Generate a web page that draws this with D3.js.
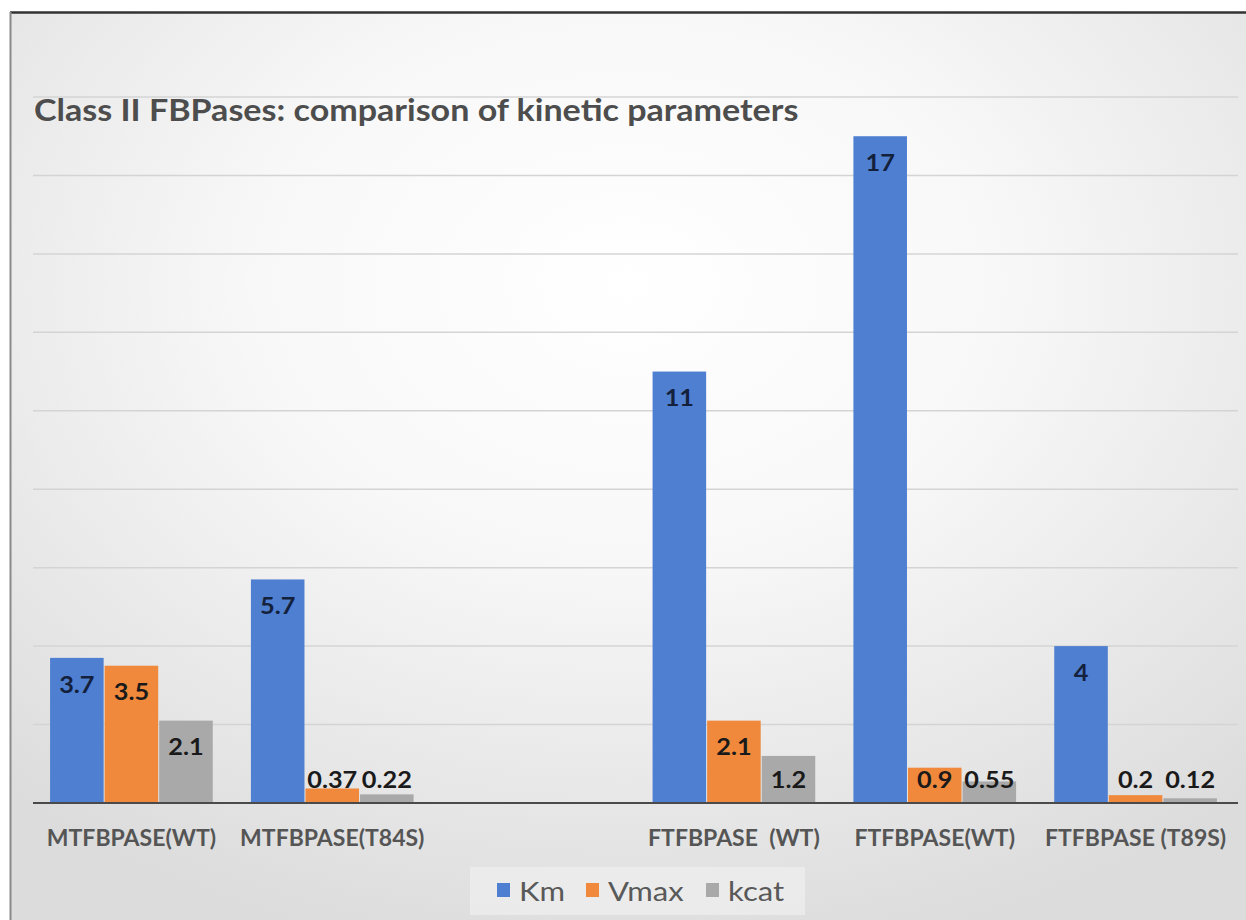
<!DOCTYPE html>
<html>
<head>
<meta charset="utf-8">
<script src="https://cdn.jsdelivr.net/npm/d3@7"></script>
<style>
  body { margin: 0; background: #fff; }
  svg { display: block; }
  text { font-family: Lato, "Open Sans", sans-serif; }
</style>
</head>
<body>
<div id="chart"></div>
<script>
// chart values
var categories = ["MTFBPASE(WT)", "MTFBPASE(T84S)", "", "FTFBPASE  (WT)", "FTFBPASE(WT)", "FTFBPASE (T89S)"];
var seriesNames = ["Km", "Vmax", "kcat"];
var kmValues   = [3.7, 5.7, null, 11, 17, 4];
var vmaxValues = [3.5, 0.37, null, 2.1, 0.9, 0.2];
var kcatValues = [2.1, 0.22, null, 1.2, 0.55, 0.12];
var labelText = {
    Km:   ["3.7", "5.7", "", "11", "17", "4"],
    Vmax: ["3.5", "0.37", "", "2.1", "0.9", "0.2"],
    kcat: ["2.1", "0.22", "", "1.2", "0.55", "0.12"]
};
var yTicks = [0, 2, 4, 6, 8, 10, 12, 14, 16, 18];
var titleText = "Class II FBPases: comparison of kinetic parameters";

var config = {
    width: 1246,
    height: 920,
    plot: { left: 31, right: 1236, top: 97, bottom: 803 },
    colors: { Km: "#4f7fd0", Vmax: "#f0893c", kcat: "#a9a9a9" },
    // the source picture is a little wider than tall, text gets stretched too
    stretch: { title: 1.135, label: 1.15, legend: 1.15 }
};

var rows = categories.map((c, i) => ({
    cat: c, idx: i,
    values: [
        { key: "Km", v: kmValues[i] },
        { key: "Vmax", v: vmaxValues[i] },
        { key: "kcat", v: kcatValues[i] }
    ]
}));

var svg = d3.select("#chart").append("svg")
    .attr("width", config.width)
    .attr("height", config.height);

// background gradient
var defs = svg.append("defs");
var grad = defs.append("radialGradient")
    .attr("id", "bg")
    .attr("cx", "50%").attr("cy", "30%").attr("r", "75%");
grad.append("stop").attr("offset", "0%").attr("stop-color", "#ffffff");
grad.append("stop").attr("offset", "40%").attr("stop-color", "#f8f8f8");
grad.append("stop").attr("offset", "100%").attr("stop-color", "#dcdcdc");

svg.append("rect")
    .attr("x", 10).attr("y", 12)
    .attr("width", config.width - 10).attr("height", config.height - 12)
    .attr("fill", "url(#bg)");

// frame
svg.append("line").attr("x1", 10).attr("x2", config.width).attr("y1", 12.5).attr("y2", 12.5)
    .attr("stroke", "#333").attr("stroke-width", 2.5);
svg.append("line").attr("x1", 10.5).attr("x2", 10.5).attr("y1", 12).attr("y2", config.height)
    .attr("stroke", "#8a8a8a").attr("stroke-width", 2);

var x = d3.scaleBand()
    .domain(d3.range(categories.length))
    .range([config.plot.left, config.plot.right])
    .paddingInner(0.185)
    .paddingOuter(0.0925);

var xs = d3.scaleBand()
    .domain(seriesNames)
    .range([0, x.bandwidth()])
    .padding(0);

var y = d3.scaleLinear()
    .domain([0, 18])
    .range([config.plot.bottom, config.plot.top]);

// gridlines
svg.append("g")
    .selectAll("line")
    .data(yTicks.filter(t => t > 0))
    .join("line")
    .attr("x1", config.plot.left + 2).attr("x2", config.plot.right + 2)
    .attr("y1", d => y(d)).attr("y2", d => y(d))
    .attr("stroke", "#d4d4d4")
    .attr("stroke-width", 1.5);

// title
svg.append("text")
    .attr("transform", `translate(34,121) scale(${config.stretch.title},1)`)
    .attr("font-size", 30)
    .attr("font-weight", 700)
    .attr("fill", "#4d4d4d")
    .text(titleText);

// bars
var groups = svg.append("g")
    .selectAll("g")
    .data(rows)
    .join("g")
    .attr("transform", d => `translate(${x(d.idx)},0)`);

groups.selectAll("rect")
    .data(d => d.values.filter(v => v.v !== null))
    .join("rect")
    .attr("x", d => xs(d.key) + 0.5)
    .attr("width", xs.bandwidth() - 1)
    .attr("y", d => y(d.v))
    .attr("height", d => y(0) - y(d.v))
    .attr("fill", d => config.colors[d.key]);

// data labels
groups.selectAll("text")
    .data(d => d.values.filter(v => v.v !== null).map(v => ({ key: v.key, v: v.v, label: labelText[v.key][d.idx] })))
    .join("text")
    .attr("transform", d => `translate(${xs(d.key) + xs.bandwidth() / 2},${Math.min(y(d.v) + 27, 780)}) scale(${config.stretch.label},1)`)
    .attr("dy", "0.35em")
    .attr("text-anchor", "middle")
    .attr("font-size", 22)
    .attr("font-weight", 700)
    .attr("fill", d => d.key === "Km" ? "#14213d" : "#1a1a1a")
    .text(d => d.label);

// baseline axis
var xAxis = d3.axisBottom(x).tickSize(0).tickFormat(i => categories[i]);
var axisG = svg.append("g")
    .attr("transform", `translate(0,${y(0)})`)
    .call(xAxis);
axisG.select(".domain")
    .attr("d", `M${config.plot.left + 2},0H${config.plot.right + 2}`)
    .attr("stroke", "#4a4a4a")
    .attr("stroke-width", 2);
axisG.selectAll("text")
    .attr("y", 35)
    .attr("dy", "0.35em")
    .attr("font-size", 23)
    .attr("font-weight", 700)
    .attr("fill", "#555")
    .attr("font-family", "Lato, sans-serif")
    .style("white-space", "pre");

// legend
var legendG = svg.append("g");
legendG.append("rect")
    .attr("x", 470).attr("y", 867)
    .attr("width", 335).attr("height", 48)
    .attr("fill", "#f2f2f2").attr("opacity", 0.6);
var legendX = [497, 586, 706];
var legendItems = legendG.selectAll("g")
    .data(seriesNames)
    .join("g")
    .attr("transform", (d, i) => `translate(${legendX[i]},890)`);
legendItems.append("rect")
    .attr("x", 0).attr("y", -7)
    .attr("width", 13).attr("height", 14)
    .attr("fill", d => config.colors[d]);
legendItems.append("text")
    .attr("transform", `translate(22,11) scale(${config.stretch.legend},1)`)
    .attr("font-size", 27)
    .attr("fill", "#595959")
    .text(d => d);
</script>
</body>
</html>
